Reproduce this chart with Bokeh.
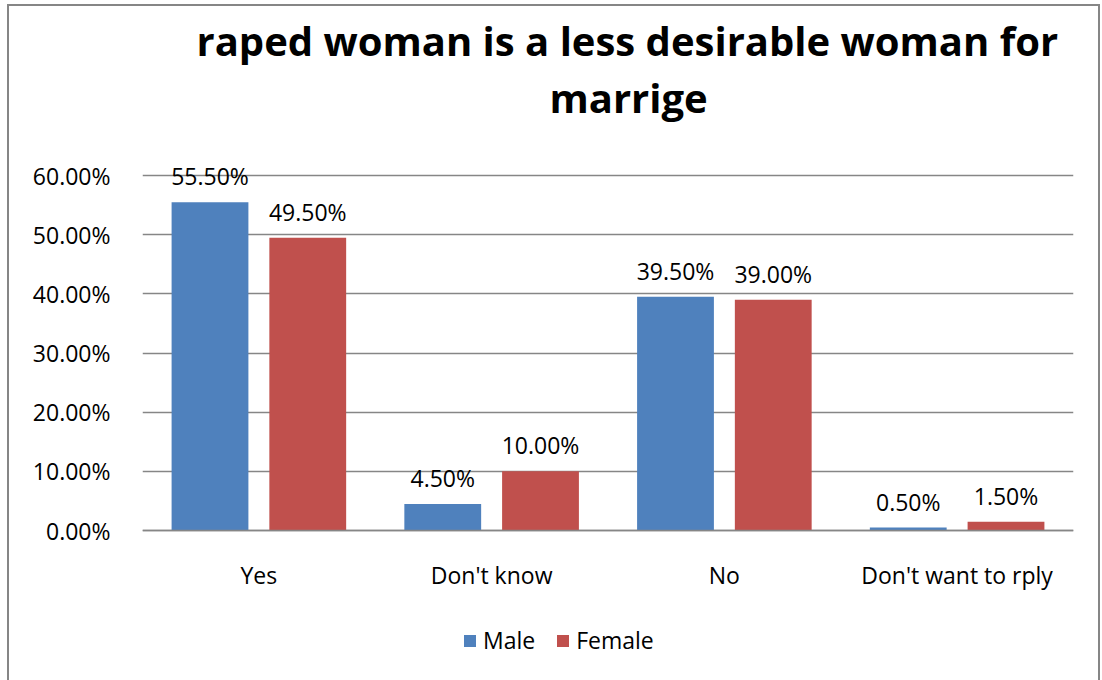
from bokeh.plotting import figure
from bokeh.models import (FactorRange, Range1d, ColumnDataSource, FixedTicker, Legend, LegendItem,
                          Title)
from bokeh.transform import dodge
from bokeh.core.properties import value
from bokeh.embed import file_html
from bokeh.resources import INLINE

categories = ["Yes", "Don't know", "No", "Don't want to rply"]
male = [55.5, 4.5, 39.5, 0.5]
female = [49.5, 10.0, 39.0, 1.5]
series_names = ["Male", "Female"]
y_ticks = [0, 10, 20, 30, 40, 50, 60]
title_lines = ["raped woman is a less desirable woman for", "marrige"]

FONT = "Open Sans"
FS = "23px"
MALE_C = "#4F81BD"
FEMALE_C = "#C0504D"
GRID_C = "#868686"

src = ColumnDataSource(dict(
    cat=categories,
    male=male,
    female=female,
    male_lbl=["%.2f%%" % v for v in male],
    female_lbl=["%.2f%%" % v for v in female],
))

OX, OY = 9, 6            # offset of the canvas inside the bordered box
FRAME_TOP = 124          # page y of the frame top
ZERO_Y = 530             # page y of the 0 % line
PAGE_BOTTOM = 680
frame_w = 931
frame_h = PAGE_BOTTOM - FRAME_TOP
px_per_unit = 355 / 60.0

p = figure(x_range=FactorRange(*categories, range_padding=0),
           y_range=Range1d(-(PAGE_BOTTOM - ZERO_Y) / px_per_unit, (ZERO_Y - FRAME_TOP) / px_per_unit),
           frame_width=frame_w, frame_height=frame_h,
           min_border_left=142 - OX, min_border_right=1098 - 1073,
           min_border_top=FRAME_TOP - OY, min_border_bottom=0,
           output_backend="svg", toolbar_location=None)
p.outline_line_color = None
p.background_fill_color = "white"
p.border_fill_color = "white"
p.styles = {"margin-left": "7px", "margin-top": "4px",
            "border-left": "2px solid #868686", "border-top": "2px solid #868686",
            "border-right": "2px solid #868686"}

r_m = p.vbar(x=dodge("cat", -0.21, range=p.x_range), top="male", width=0.33, source=src,
             fill_color=MALE_C, line_color=None)
r_f = p.vbar(x=dodge("cat", 0.21, range=p.x_range), top="female", width=0.33, source=src,
             fill_color=FEMALE_C, line_color=None)

for col, off in (("male_lbl", -0.21), ("female_lbl", 0.21)):
    ycol = col.split("_")[0]
    p.text(x=dodge("cat", off, range=p.x_range), y=ycol, text=col, source=src,
           text_align="center", text_baseline="middle", y_offset=-26,
           text_font=value(FONT), text_font_size=FS, text_color="#000000")

# axes
p.yaxis.ticker = FixedTicker(ticks=y_ticks)
p.yaxis.major_label_overrides = {t: "%.2f%%" % t for t in y_ticks}
p.yaxis.axis_line_color = None
p.yaxis.major_tick_line_color = None
p.yaxis.minor_tick_line_color = None
p.yaxis.major_label_standoff = 26
p.yaxis.major_label_text_font = FONT
p.yaxis.major_label_text_font_size = FS
p.yaxis.major_label_text_color = "#000000"

p.xaxis.fixed_location = 0
p.xaxis.axis_line_color = GRID_C
p.xaxis.axis_line_width = 1.5
p.xaxis.major_tick_line_color = None
p.xaxis.minor_tick_line_color = None
p.xaxis.major_label_standoff = 22
p.xaxis.major_label_text_font = FONT
p.xaxis.major_label_text_font_size = FS
p.xaxis.major_label_text_color = "#000000"

p.xgrid.grid_line_color = None
p.ygrid.ticker = FixedTicker(ticks=y_ticks)
p.ygrid.grid_line_color = GRID_C
p.ygrid.grid_line_width = 1.5

# title: two lines, centred near x=627 of the page
TFS = 40
est_w = [862, 156]
for i in (1, 0):
    off = int(627 - 142 - est_w[i] / 2)
    p.add_layout(Title(text=title_lines[i], align="left", offset=off, standoff=0,
                       text_font=FONT, text_font_style="bold", text_font_size="%dpx" % TFS,
                       text_color="#000000"), "above")

# legend under the category labels
legend = Legend(items=[LegendItem(label=series_names[0], renderers=[r_m]),
                       LegendItem(label=series_names[1], renderers=[r_f])],
                orientation="horizontal", location=(320, 24),
                glyph_width=15, glyph_height=15, label_standoff=6, spacing=20,
                padding=0, margin=0, border_line_color=None, background_fill_alpha=0,
                label_text_font=FONT, label_text_font_size=FS, label_text_color="#000000")
p.add_layout(legend, "center")

open("out.html", "w").write(file_html(p, INLINE))
